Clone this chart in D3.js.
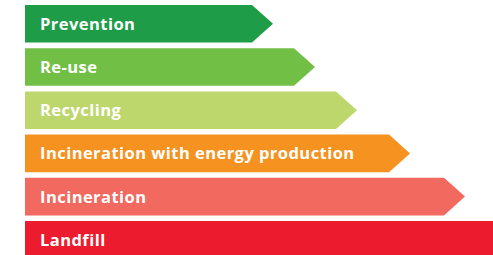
<!DOCTYPE html>
<html>
<head>
<meta charset="utf-8">
<script src="https://cdn.jsdelivr.net/npm/d3@7"></script>
<style>
  html, body { margin: 0; padding: 0; background: #fff; overflow: hidden; }
  svg { display: block; }
  .label { font-family: "Open Sans", Lato, sans-serif; font-weight: 700; fill: #fff; }
</style>
</head>
<body>
<div id="chart"></div>
<script>
// waste hierarchy, top = most preferred
const categories = ['Prevention', 'Re-use', 'Recycling', 'Incineration with energy production', 'Incineration', 'Landfill'];
const lengths = [248, 290, 332, 385, 440, 520];
const colors = ['#1e9c47', '#72bf45', '#bdd76c', '#f6921f', '#f1695f', '#ec1b2e'];

const width = 493;
const height = 255;
const left = 25;
const tipDepth = 21;

const svg = d3.select('#chart')
  .append('svg')
  .attr('width', width)
  .attr('height', height);

const x = d3.scaleLinear()
  .domain([0, 468])
  .range([left, width]);

const y = d3.scaleBand()
  .domain(categories)
  .range([5, 258.6])
  .paddingInner(0.13)
  .paddingOuter(0);

const rows = svg.selectAll('g.row')
  .data(categories)
  .enter()
  .append('g')
  .attr('class', 'row');

// arrow shaped bars
rows.append('path')
  .attr('d', (d, i) => {
    const y0 = y(d);
    const h = y.bandwidth();
    const tip = x(lengths[i]);
    const sh = tip - tipDepth;
    return `M${x(0)},${y0}H${sh}L${tip},${y0 + h / 2}L${sh},${y0 + h}H${x(0)}Z`;
  })
  .style('fill', (d, i) => colors[i]);

rows.append('text')
  .attr('class', 'label')
  .attr('x', 40)
  .attr('y', d => y(d) + y.bandwidth() / 2)
  .attr('dy', '0.36em')
  .style('font-size', '16.5px')
  .style('letter-spacing', '0.45px')
  .text(d => d);
</script>
</body>
</html>
